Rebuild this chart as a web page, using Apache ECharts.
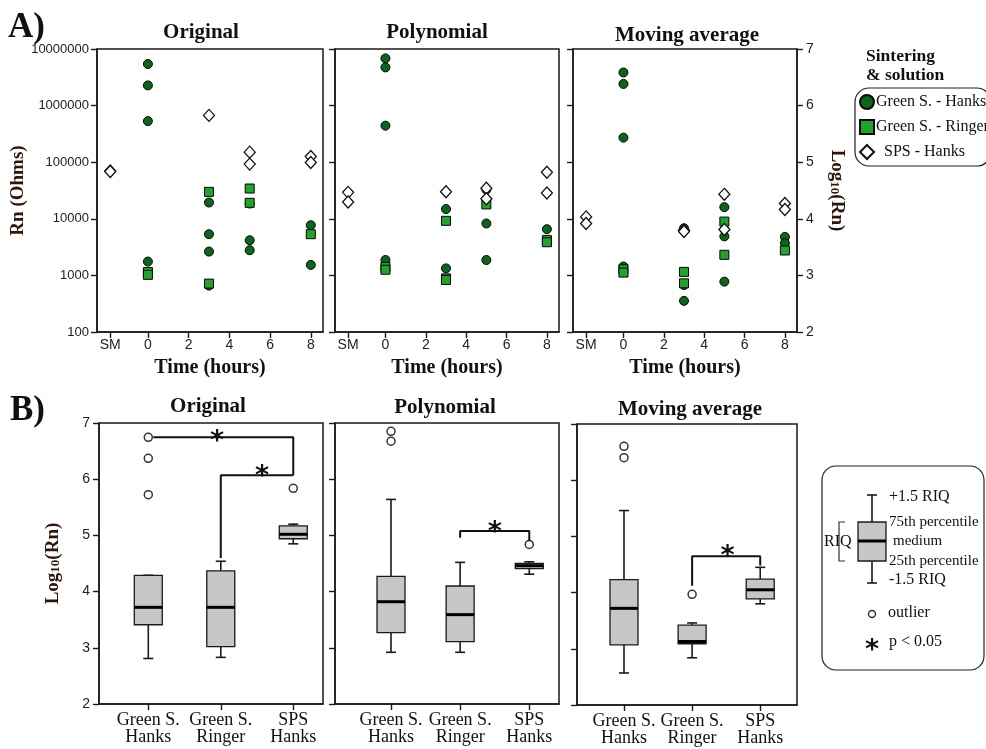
<!DOCTYPE html>
<html><head><meta charset="utf-8">
<script src="https://cdn.jsdelivr.net/npm/echarts@6/dist/echarts.min.js"></script>
<style>html,body{margin:0;padding:0;background:#fff}#c{width:986px;height:749px}</style>
</head><body><div id="c"></div>
<script>
// ---------- data ----------
const panelTitles = ['Original', 'Polynomial', 'Moving average'];
const seriesNames = ['Green S. - Hanks', 'Green S. - Ringer', 'SPS - Hanks'];
const timeTicks = ['SM', 0, 2, 4, 6, 8];
const logTicks = [2, 3, 4, 5, 6, 7];
const boxCategories = ['Green S.\nHanks', 'Green S.\nRinger', 'SPS\nHanks'];

// A) [time, log10(Rn)]
const origHanks = [[0,6.735],[0,6.357],[0,5.726],[0,3.244],[3,4.288],[3,3.728],[3,3.421],[3,2.82],[5,4.27],[5,3.621],[5,3.445],[8,3.887],[8,3.185]];
const origRinger = [[0,3.06],[0,3.01],[3,4.476],[3,2.855],[5,4.535],[5,4.282],[8,3.728]];
const origSPS = [['SM',4.845],['SM',4.835],[3,5.827],[5,5.178],[5,4.966],[8,5.10],[8,4.995]];

const polyHanks = [[0,6.834],[0,6.675],[0,5.645],[0,3.272],[3,4.172],[3,3.124],[3,2.93],[5,4.515],[5,3.917],[5,3.272],[8,3.817]];
const polyRinger = [[0,3.15],[0,3.10],[3,3.964],[3,2.947],[3,2.92],[5,4.254],[8,3.627],[8,3.586]];
const polySPS = [['SM',4.467],['SM',4.296],[3,4.479],[5,4.54],[5,4.355],[8,4.822],[8,4.456]];

const maHanks = [[0,6.585],[0,6.383],[0,5.434],[0,3.157],[3,3.833],[3,2.83],[3,2.55],[5,4.206],[5,3.69],[5,2.89],[8,3.68],[8,3.57]];
const maRinger = [[0,3.109],[0,3.05],[3,3.062],[3,2.86],[5,3.951],[5,3.364],[8,3.44]];
const maSPS = [['SM',4.034],['SM',3.916],[3,3.80],[3,3.775],[5,4.432],[5,3.81],[8,4.27],[8,4.165]];

// B) box stats per category: [min, Q1, median, Q3, max]
const boxOriginal = [[2.81,3.41,3.72,4.29,4.29],[2.83,3.02,3.72,4.37,4.54],[4.85,4.94,5.02,5.17,5.20]];
const boxPoly = [[2.92,3.27,3.82,4.27,5.64],[2.92,3.11,3.59,4.10,4.52],[4.31,4.41,4.46,4.50,4.53]];
const boxMA = [[2.57,3.07,3.72,4.23,5.46],[2.84,3.09,3.13,3.42,3.46],[3.80,3.89,4.05,4.24,4.45]];
// outliers: [category index, log10(Rn)]
const outOriginal = [[0,6.745],[0,6.371],[0,5.725],[2,5.837]];
const outPoly = [[0,6.852],[0,6.675],[2,4.84]];
const outMA = [[0,6.603],[0,6.40],[1,3.969]];
// significance brackets (category position, log10 value) and stars
const bracketsOriginal = [[[1.07,6.745],[3,6.745],[3,6.07]], [[2,4.6],[2,6.07],[3,6.07]]];
const bracketsPoly = [[[2,4.96],[2,5.077],[3,5.077],[3,4.9]]];
const bracketsMA = [[[2,4.12],[2,4.645],[3,4.645],[3,4.48]]];
const starsOriginal = [[1.95,6.83],[2.57,6.2]];
const starsPoly = [[2.5,5.2]];
const starsMA = [[2.52,4.8]];

// ---------- style ----------
const SERIF = '"Liberation Serif","Times New Roman",serif';
const SANS = '"Liberation Sans",Arial,sans-serif';
const INK = '#1a1a1a';
const NAMECOL = '#2e160a';
const SM_POS = -1.85;
const xPos = t => (t === 'SM' ? SM_POS : t);
const tickPos = timeTicks.map(xPos);

const topGrids = [
  {left: 97, top: 49, width: 226, height: 283},
  {left: 335, top: 49, width: 224, height: 283},
  {left: 573, top: 49, width: 224, height: 283}
];
const botGrids = [
  {left: 99, top: 423, width: 224, height: 281},
  {left: 335, top: 423, width: 224, height: 281},
  {left: 577, top: 424, width: 220, height: 281}
];
const botXRange = [[0.32, 3.41], [0.19, 3.43], [0.31, 3.54]];

const grid = topGrids.concat(botGrids).map(g => Object.assign({show: true, borderColor: INK, borderWidth: 1.5, backgroundColor: 'transparent'}, g));

const axisLine = {show: true, onZero: false, lineStyle: {color: INK, width: 1.5}};
const axisTickBase = {show: true, inside: false, length: 6, lineStyle: {color: INK, width: 1.4}};

const logName = '{a|Log}{s|10}{a|(Rn)}';
const logNameStyle = {
  fontFamily: SERIF, fontWeight: 'bold', fontSize: 19, color: NAMECOL,
  rich: {
    a: {fontFamily: SERIF, fontWeight: 'bold', fontSize: 19, color: NAMECOL, padding: [0, 0, 5, 0]},
    s: {fontFamily: SERIF, fontWeight: 'bold', fontSize: 13, color: NAMECOL}
  }
};

const xAxis = [];
const yAxis = [];
for (let i = 0; i < 3; i++) {
  xAxis.push({
    type: 'value', gridIndex: i, min: -2.5, max: 8.6,
    axisLine, splitLine: {show: false},
    axisTick: Object.assign({customValues: tickPos}, axisTickBase),
    axisLabel: {customValues: tickPos, margin: 6, fontFamily: SANS, fontSize: 14, color: '#222',
      formatter: v => (v < -1 ? 'SM' : String(v))},
    name: 'Time (hours)', nameLocation: 'middle', nameGap: 26,
    nameTextStyle: {fontFamily: SERIF, fontWeight: 'bold', fontSize: 20, color: '#111'}
  });
}
for (let j = 0; j < 3; j++) {
  xAxis.push({
    type: 'value', gridIndex: 3 + j, min: botXRange[j][0], max: botXRange[j][1],
    axisLine, splitLine: {show: false},
    axisTick: Object.assign({customValues: [1, 2, 3]}, axisTickBase),
    axisLabel: {customValues: [1, 2, 3], margin: 8, fontFamily: SERIF, fontSize: 18, lineHeight: 17, color: '#111',
      formatter: v => boxCategories[Math.round(v) - 1]}
  });
}
// top y axes
for (let i = 0; i < 3; i++) {
  yAxis.push({
    type: 'value', gridIndex: i, min: 2, max: 7, interval: 1,
    axisLine, splitLine: {show: false}, axisTick: axisTickBase,
    axisLabel: {show: i === 0, margin: 8, fontFamily: SANS, fontSize: 13, color: '#222',
      formatter: v => String(Math.round(Math.pow(10, v)))},
    name: i === 0 ? 'Rn (Ohms)' : '', nameLocation: 'middle', nameGap: 61, nameRotate: 90,
    nameTextStyle: {fontFamily: SERIF, fontWeight: 'bold', fontSize: 19, color: NAMECOL}
  });
}
// right log axis on panel 3 (index 3)
yAxis.push({
  type: 'value', gridIndex: 2, position: 'right', min: 2, max: 7, interval: 1,
  axisLine, splitLine: {show: false}, axisTick: axisTickBase,
  axisLabel: {margin: 9, fontFamily: SANS, fontSize: 14, color: '#222'},
  name: logName, nameLocation: 'middle', nameGap: 25, nameRotate: -90,
  nameTextStyle: logNameStyle
});
// bottom y axes (4,5,6)
for (let j = 0; j < 3; j++) {
  yAxis.push({
    type: 'value', gridIndex: 3 + j, min: 2, max: 7, interval: 1,
    axisLine, splitLine: {show: false}, axisTick: axisTickBase,
    axisLabel: {show: j === 0, margin: 9, fontFamily: SANS, fontSize: 14, color: '#222'},
    name: j === 0 ? logName : '', nameLocation: 'middle', nameGap: 31, nameRotate: 90,
    nameTextStyle: logNameStyle
  });
}

const markerStyles = [
  {symbol: 'circle', symbolSize: 9, itemStyle: {color: '#0b661c', borderColor: '#050505', borderWidth: 1, opacity: 1}},
  {symbol: 'rect', symbolSize: 9, itemStyle: {color: '#20a42a', borderColor: '#050505', borderWidth: 1, opacity: 1}},
  {symbol: 'diamond', symbolSize: [11, 12], itemStyle: {color: '#ffffff', borderColor: '#111', borderWidth: 1.3, opacity: 1}}
];
const topData = [[origHanks, origRinger, origSPS], [polyHanks, polyRinger, polySPS], [maHanks, maRinger, maSPS]];

const series = [];
topData.forEach((panel, i) => {
  panel.forEach((arr, k) => {
    series.push(Object.assign({
      type: 'scatter', name: seriesNames[k], xAxisIndex: i, yAxisIndex: i, z: 3 + k,
      data: arr.map(d => [xPos(d[0]), d[1]]), emphasis: {disabled: true}
    }, JSON.parse(JSON.stringify(markerStyles[k]))));
  });
});

function renderBox(params, api) {
  const x = api.value(0);
  const p = [1, 2, 3, 4, 5].map(i => api.coord([x, api.value(i)]));
  const cx = p[0][0];
  const hw = 14, cw = 5;
  const ls = {stroke: INK, lineWidth: 1.6};
  return {type: 'group', children: [
    {type: 'line', shape: {x1: cx, y1: p[0][1], x2: cx, y2: p[1][1]}, style: ls},
    {type: 'line', shape: {x1: cx, y1: p[3][1], x2: cx, y2: p[4][1]}, style: ls},
    {type: 'line', shape: {x1: cx - cw, y1: p[0][1], x2: cx + cw, y2: p[0][1]}, style: ls},
    {type: 'line', shape: {x1: cx - cw, y1: p[4][1], x2: cx + cw, y2: p[4][1]}, style: ls},
    {type: 'rect', shape: {x: cx - hw, y: p[3][1], width: 2 * hw, height: p[1][1] - p[3][1]},
      style: {fill: '#c6c6c6', stroke: INK, lineWidth: 1.3}},
    {type: 'line', shape: {x1: cx - hw, y1: p[2][1], x2: cx + hw, y2: p[2][1]}, style: {stroke: '#000', lineWidth: 3}}
  ]};
}

const botData = [
  [boxOriginal, outOriginal, bracketsOriginal, starsOriginal],
  [boxPoly, outPoly, bracketsPoly, starsPoly],
  [boxMA, outMA, bracketsMA, starsMA]
];
botData.forEach((b, j) => {
  const xi = 3 + j, yi = 4 + j;
  series.push({
    type: 'custom', xAxisIndex: xi, yAxisIndex: yi, renderItem: renderBox,
    encode: {x: 0, y: [1, 2, 3, 4, 5]}, silent: true,
    data: b[0].map((s, c) => [c + 1].concat(s))
  });
  series.push({
    type: 'scatter', xAxisIndex: xi, yAxisIndex: yi, symbol: 'circle', symbolSize: 8, silent: true,
    itemStyle: {color: '#fff', borderColor: '#333', borderWidth: 1.5, opacity: 1},
    data: b[1].map(d => [d[0] + 1, d[1]])
  });
  b[2].forEach(br => {
    series.push({
      type: 'line', xAxisIndex: xi, yAxisIndex: yi, symbol: 'none', silent: true,
      lineStyle: {color: '#111', width: 2}, data: br
    });
  });
  series.push({
    type: 'scatter', xAxisIndex: xi, yAxisIndex: yi, symbolSize: 1, silent: true,
    itemStyle: {color: 'rgba(0,0,0,0)', opacity: 1},
    label: {show: true, position: 'inside', formatter: '*', offset: [0, 9], opacity: 1,
      fontFamily: '"DejaVu Sans",sans-serif', fontWeight: 'bold', fontSize: 27, color: '#111'},
    data: b[3]
  });
});

// ---------- graphics (titles, panel letters, legend keys) ----------
const g = [];
const txt = (x, y, text, font, extra) => g.push({type: 'text', x, y, silent: true,
  style: Object.assign({text, font, fill: '#111', textAlign: 'left', textVerticalAlign: 'middle'}, extra || {})});
const TB = 'bold 21px ' + SERIF;
txt(8, 28, 'A)', 'bold 35px ' + SERIF);
txt(10, 411, 'B)', 'bold 35px ' + SERIF);
[[201, 33], [437, 33], [687, 36]].forEach((p, i) => txt(p[0], p[1], panelTitles[i], TB, {textAlign: 'center'}));
[[208, 407], [445, 408], [690, 410]].forEach((p, i) => txt(p[0], p[1], panelTitles[i], TB, {textAlign: 'center'}));
txt(866, 56, 'Sintering', 'bold 17.5px ' + SERIF);
txt(866, 75, '& solution', 'bold 17.5px ' + SERIF);

// box-plot key
g.push({type: 'rect', silent: true, shape: {x: 822, y: 466, width: 162, height: 204, r: 14},
  style: {fill: 'none', stroke: '#222', lineWidth: 1.2}});
const kx = 872;
g.push({type: 'line', silent: true, shape: {x1: kx, y1: 495, x2: kx, y2: 583}, style: {stroke: INK, lineWidth: 1.6}});
g.push({type: 'line', silent: true, shape: {x1: kx - 5, y1: 495, x2: kx + 5, y2: 495}, style: {stroke: INK, lineWidth: 1.6}});
g.push({type: 'line', silent: true, shape: {x1: kx - 5, y1: 583, x2: kx + 5, y2: 583}, style: {stroke: INK, lineWidth: 1.6}});
g.push({type: 'rect', silent: true, shape: {x: kx - 14, y: 522, width: 28, height: 39}, style: {fill: '#c6c6c6', stroke: INK, lineWidth: 1.3}});
g.push({type: 'line', silent: true, shape: {x1: kx - 14, y1: 541, x2: kx + 14, y2: 541}, style: {stroke: '#000', lineWidth: 3}});
g.push({type: 'polyline', silent: true, shape: {points: [[845, 522], [839, 522], [839, 561], [845, 561]]}, style: {fill: 'none', stroke: '#333', lineWidth: 1.2}});
const TK = '15px ' + SERIF;
txt(824, 542, 'RIQ', '16px ' + SERIF);
txt(889, 497, '+1.5 RIQ', '16px ' + SERIF);
txt(889, 522, '75th percentile', TK);
txt(893, 541, 'medium', TK);
txt(889, 561, '25th percentile', TK);
txt(889, 580, '-1.5 RIQ', '16px ' + SERIF);
g.push({type: 'circle', silent: true, shape: {cx: kx, cy: 614, r: 3.5}, style: {fill: '#fff', stroke: '#333', lineWidth: 1.4}});
txt(888, 613, 'outlier', '16px ' + SERIF);
txt(kx, 651, '*', 'bold 27px "DejaVu Sans",sans-serif', {textAlign: 'center'});
txt(889, 642, 'p < 0.05', '16px ' + SERIF);

const option = {
  backgroundColor: '#fff',
  animation: false,
  grid, xAxis, yAxis, series,
  legend: {
    orient: 'vertical', left: 855, top: 88, itemWidth: 14, itemHeight: 14, itemGap: 9,
    padding: [6, 2, 6, 4], borderColor: '#222', borderWidth: 1.2, borderRadius: 14,
    selectedMode: false, data: seriesNames,
    formatter: n => (n === 'SPS - Hanks' ? '  ' + n : n),
    textStyle: {fontFamily: SERIF, fontSize: 16, color: '#111', padding: [0, 0, 0, -3]}
  },
  graphic: g
};
echarts.init(document.getElementById('c'), null, {renderer: 'canvas'}).setOption(option);
</script></body></html>
